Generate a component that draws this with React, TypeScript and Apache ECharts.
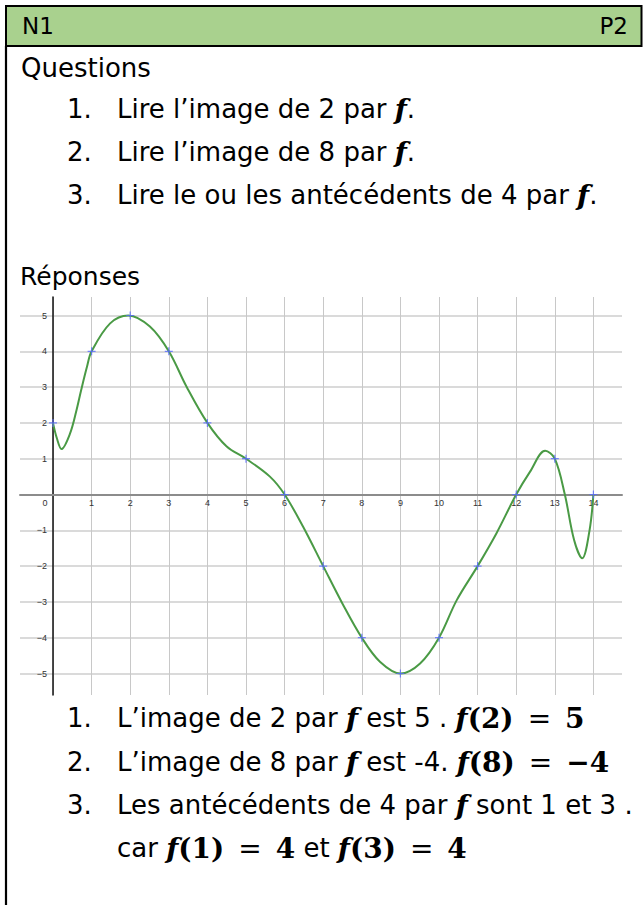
import React, { useEffect, useRef } from 'react';
import * as echarts from 'echarts';

// Marked points of f (blue crosses)
const pointX = [0, 1, 2, 3, 4, 5, 6, 7, 8, 9, 10, 11, 12, 13, 14];
const pointY = [2, 4, 5, 4, 2, 1, 0, -2, -4, -5, -4, -2, 0, 1, 0];

// Points
const curveX = [0, 0.1, 0.22, 0.44, 0.61, 0.73, 0.88, 1, 1.48, 1.95, 2.51, 3, 3.46, 4, 4.5, 5, 5.62, 6, 6.48, 7, 7.5, 8, 8.47, 9, 9.51, 10, 10.46, 11, 11.49, 12, 12.36, 12.75, 13, 13.26, 13.5, 13.71, 13.9, 14];
const curveY = [2, 1.57, 1.27, 1.7, 2.36, 2.92, 3.57, 4, 4.78, 5, 4.69, 4, 3.01, 2, 1.34, 1, 0.5, 0, -0.9, -2, -3.05, -4, -4.67, -5, -4.72, -4, -2.95, -2, -1.08, 0, 0.64, 1.22, 1, 0, -1.27, -1.78, -1.0, 0];

const headerLeft = 'N1';
const headerRight = 'P2';
const questionsTitle = 'Questions';
const answersTitle = 'Réponses';

const HAND = 'DejaVu Sans';
const MATH = 'DejaVu Serif';

export default function App() {
  const ref = useRef<HTMLDivElement>(null);

  useEffect(() => {
    if (!ref.current) return;
    const chart = echarts.init(ref.current, null, { renderer: 'svg' });

    const fs = 26;
    const ms = 28;
    const rich = {
      t: { fontFamily: HAND, fontSize: fs, color: '#000' },
      fi: { fontFamily: MATH, fontSize: ms, fontWeight: 'bold', fontStyle: 'italic', color: '#000' },
      fb: { fontFamily: MATH, fontSize: ms, fontWeight: 'bold', color: '#000' },
      fr: { fontFamily: MATH, fontSize: ms, color: '#000' },
    };

    const line = (x: number, y: number, text: string) => ({
      type: 'text',
      x,
      y,
      style: { text, rich, verticalAlign: 'middle', align: 'left', fontFamily: HAND, fontSize: fs, fill: '#000' },
      z: 10,
    });
    const num = (y: number, n: string) => ({
      type: 'text',
      x: 67,
      y,
      style: { text: n, fontFamily: HAND, fontSize: fs, fill: '#000', verticalAlign: 'middle', align: 'left' },
      z: 10,
    });

    const EQ = '\u2002=\u2002';

    const graphic: any[] = [
      { type: 'rect', shape: { x: 6, y: 6, width: 635.5, height: 40 }, style: { fill: '#a9d18e', stroke: '#000', lineWidth: 2 }, z: 1 },
      { type: 'line', shape: { x1: 6, y1: 46, x2: 6, y2: 905 }, style: { stroke: '#000', lineWidth: 2.2 }, z: 2 },
      { type: 'text', x: 22, y: 26, style: { text: headerLeft, fontFamily: HAND, fontSize: 23, fill: '#000', verticalAlign: 'middle' }, z: 10 },
      { type: 'text', x: 628, y: 26, style: { text: headerRight, fontFamily: HAND, fontSize: 23, fill: '#000', verticalAlign: 'middle', align: 'right' }, z: 10 },
      { type: 'text', x: 21, y: 68, style: { text: questionsTitle, fontFamily: HAND, fontSize: 26, fill: '#000', verticalAlign: 'middle' }, z: 10 },
      num(109, '1.'),
      line(117, 109, '{t|Lire l’image de 2 par }{fi|f}{t|.}'),
      num(152, '2.'),
      line(117, 152, '{t|Lire l’image de 8 par }{fi|f}{t|.}'),
      num(195, '3.'),
      line(117, 195, '{t|Lire le ou les antécédents de 4 par }{fi|f}{t|.}'),
      { type: 'text', x: 20, y: 276, style: { text: answersTitle, fontFamily: HAND, fontSize: 25, fill: '#000', verticalAlign: 'middle' }, z: 10 },
      num(718, '1.'),
      line(117, 718, `{t|L’image de 2 par }{fi|f}{t| est 5 . }{fi|f}{fb|(2)}{fr|${EQ}}{fb|5}`),
      num(762, '2.'),
      line(117, 762, `{t|L’image de 8 par }{fi|f}{t| est -4. }{fi|f}{fb|(8)}{fr|${EQ}}{fb|−4}`),
      num(805, '3.'),
      line(117, 805, '{t|Les antécédents de 4 par }{fi|f}{t| sont 1 et 3 .}'),
      line(117, 848, `{t|car }{fi|f}{fb|(1)}{fr|${EQ}}{fb|4}{t| et }{fi|f}{fb|(3)}{fr|${EQ}}{fb|4}`),
      { type: 'text', x: 45, y: 503, style: { text: '0', fontFamily: 'Liberation Sans', fontSize: 9, fill: '#333', align: 'center', verticalAlign: 'middle' }, z: 10 },
    ];

    const fmtY = (v: number) => (v === 0 ? '' : v < 0 ? '−' + Math.abs(v) : String(v));
    const fmtX = (v: number) => (v === 0 ? '' : String(v));

    chart.setOption({
      animation: false,
      backgroundColor: '#fff',
      grid: { left: 20, top: 297, width: 602, height: 398, containLabel: false, outerBoundsMode: 'none' },
      xAxis: {
        type: 'value',
        position: 'bottom',
        offset: -200.5,
        min: -0.855,
        max: 14.741,
        splitNumber: 16,
        minInterval: 1,
        maxInterval: 1,
        axisLine: { show: true, onZero: false, lineStyle: { color: '#8c8c8c', width: 2 } },
        axisTick: { show: false },
        axisLabel: { formatter: fmtX, showMinLabel: false, showMaxLabel: false, color: '#333', fontSize: 9, margin: 4, fontFamily: 'Liberation Sans' },
        splitLine: { show: true, showMinLine: false, showMaxLine: false, lineStyle: { color: '#c8c8c8', width: 1 } },
      },
      yAxis: {
        type: 'value',
        position: 'left',
        offset: -33,
        min: -5.6,
        max: 5.517,
        splitNumber: 11,
        minInterval: 1,
        maxInterval: 1,
        axisLine: { show: true, onZero: false, lineStyle: { color: '#111', width: 1.5 } },
        axisTick: { show: false },
        axisLabel: { formatter: fmtY, showMinLabel: false, showMaxLabel: false, color: '#333', fontSize: 9, margin: 6, fontFamily: 'Liberation Sans' },
        splitLine: { show: true, showMinLine: false, showMaxLine: false, lineStyle: { color: '#dadada', width: 2 } },
      },
      series: [
        {
          type: 'line',
          data: curveX.map((x, i) => [x, curveY[i]]),
          smooth: 0.35,
          symbol: 'none',
          lineStyle: { color: '#4a9a45', width: 2 },
          z: 3,
        },
        {
          type: 'scatter',
          data: pointX.map((x, i) => [x, pointY[i]]),
          symbol: 'path://M3.4,0H4.6V3.4H8V4.6H4.6V8H3.4V4.6H0V3.4H3.4Z',
          symbolSize: 8,
          itemStyle: { color: '#5a6cff' },
          z: 4,
        },
      ],
      graphic,
    });

    return () => chart.dispose();
  }, []);

  return <div ref={ref} style={{ position: 'absolute', left: 0, top: 0, width: 643, height: 905 }} />;
}
